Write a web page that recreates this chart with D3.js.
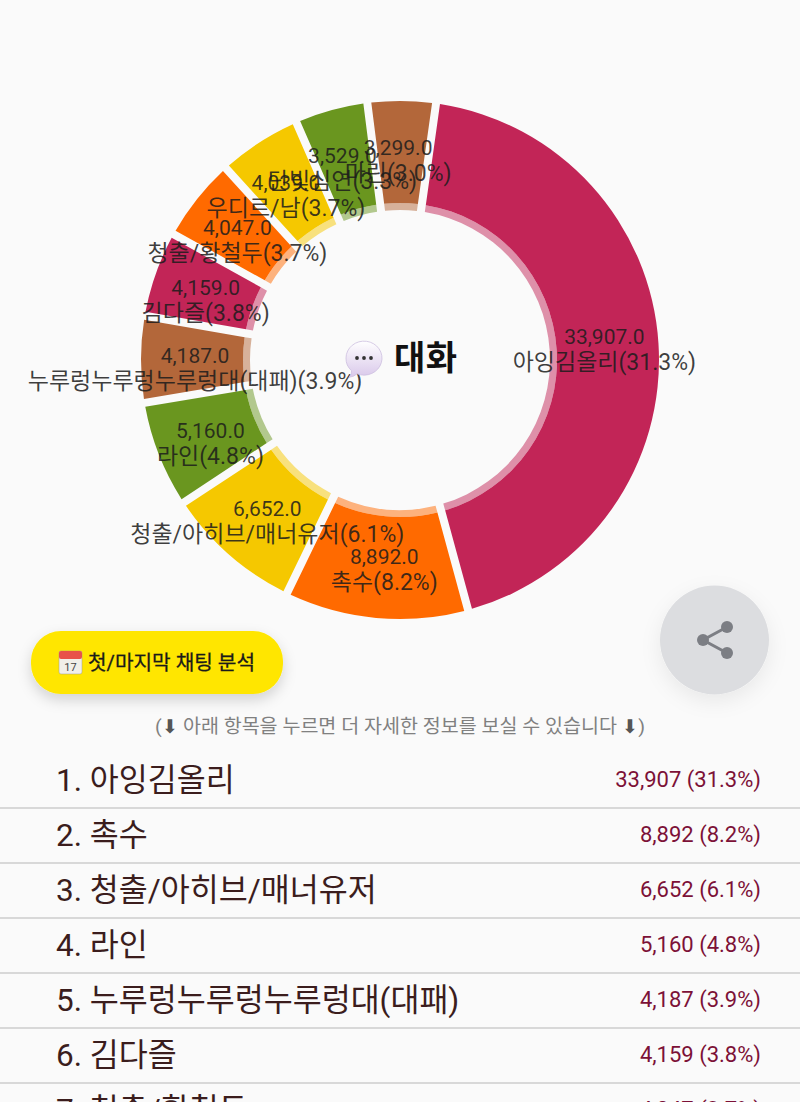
<!DOCTYPE html>
<html><head><meta charset="utf-8">
<script src="https://cdnjs.cloudflare.com/ajax/libs/d3/7.8.5/d3.min.js"></script>
<style>
html,body{margin:0;padding:0;background:#fafafa;overflow:hidden}
svg{display:block}
text{font-family:Roboto,"Noto Sans CJK KR","Noto Sans",sans-serif}
</style></head><body>
<svg id="c" width="800" height="1102"></svg>
<script>
const names=["아잉김올리","촉수","청출/아히브/매너유저","라인","누루렁누루렁누루렁대(대패)","김다즐","청출/황철두","우디르/남","단빛심연","마린"];
const values=[33907,8892,6652,5160,4187,4159,4047,4039,3529,3299];
const percents=[31.3,8.2,6.1,4.8,3.9,3.8,3.7,3.7,3.3,3.0];
const palette=["#c22557","#ff6a00","#f5c800","#6a961f","#b3673a"];
const listCount=7;

const svg=d3.select("#c");
const defs=svg.append("defs");
const f=defs.append("filter").attr("id","sh").attr("x","-30%").attr("y","-30%").attr("width","160%").attr("height","180%");
f.append("feDropShadow").attr("dx",0).attr("dy",6).attr("stdDeviation",7).attr("flood-color","#000").attr("flood-opacity",.16);
const f2=defs.append("filter").attr("id","sh2").attr("x","-30%").attr("y","-30%").attr("width","160%").attr("height","180%");
f2.append("feDropShadow").attr("dx",0).attr("dy",7).attr("stdDeviation",10).attr("flood-color","#000").attr("flood-opacity",.07);
const g=defs.append("linearGradient").attr("id","bub").attr("x1",0).attr("x2",0).attr("y1",0).attr("y2",1);
g.append("stop").attr("offset","0").attr("stop-color","#ffffff");
g.append("stop").attr("offset","1").attr("stop-color","#d9c8ea");

const cx=400,cy=360,R=259,Rin=157,Rhole=150,Rlabel=205;
const rot=8*Math.PI/180;
const labelShift=-0.9*Math.PI/180;
const pie=d3.pie().sort(null).startAngle(rot).endAngle(rot+2*Math.PI).padAngle(0);
const arcs=pie(values);
const gap=8;
const clr=i=>palette[i%palette.length];
const chart=svg.append("g").attr("transform",`translate(${cx},${cy})`);
const pad=d=>({...d,padAngle:gap/Rin});
const solid=d3.arc().innerRadius(Rin).outerRadius(R).padRadius(Rin);
const hi=d3.arc().innerRadius(Rhole).outerRadius(Rin).padRadius(Rin);
chart.selectAll("path.h").data(arcs).join("path").attr("class","h")
 .attr("d",d=>hi(pad(d))).attr("fill",(d,i)=>clr(i)).attr("fill-opacity",.5);
chart.selectAll("path.s").data(arcs).join("path").attr("class","s")
 .attr("d",d=>solid(pad(d))).attr("fill",(d,i)=>clr(i));
const lab=d3.arc().innerRadius(Rlabel).outerRadius(Rlabel);
const fmt=d3.format(",");
const labs=chart.selectAll("g.l").data(arcs).join("g").attr("class","l")
 .attr("transform",d=>{const p=lab.centroid({...d,startAngle:d.startAngle+labelShift,endAngle:d.endAngle+labelShift});return `translate(${p[0]},${p[1]})`});
labs.append("text").attr("text-anchor","middle").attr("y",0).attr("font-size",21).attr("fill","#1c1c1c").attr("fill-opacity",.86)
 .text((d,i)=>fmt(values[i])+".0");
labs.append("text").attr("text-anchor","middle").attr("y",26).attr("font-size",23).attr("fill","#1c1c1c").attr("fill-opacity",.86)
 .text((d,i)=>`${names[i]}(${percents[i].toFixed(1)}%)`);

// center
const b=svg.append("g");
b.append("path").attr("d","M346 358a18 17 0 1 1 11 15.8q-3 3-8 3.5q3-3 2.6-6.5a18 17 0 0 1-5.6-12.8z").attr("fill","url(#bub)").attr("stroke","#cdbfe0").attr("stroke-width",.8);
[357,364,371].forEach(x=>b.append("circle").attr("cx",x).attr("cy",358).attr("r",1.9).attr("fill","#333"));
svg.append("text").attr("x",394).attr("y",370).attr("font-size",34).attr("font-weight",700).attr("fill","#111").attr("textLength",63).text("대화");

// button
svg.append("rect").attr("x",31).attr("y",631).attr("width",252).attr("height",63).attr("rx",30).attr("fill","#ffe600").attr("filter","url(#sh)");
const cal=svg.append("g");
cal.append("rect").attr("x",59).attr("y",651).attr("width",23).attr("height",23).attr("rx",2).attr("fill","#f1efe9").attr("stroke","#999").attr("stroke-width",.5);
cal.append("rect").attr("x",59).attr("y",651).attr("width",23).attr("height",8).attr("rx",2).attr("fill","#e8524a");
svg.append("text").attr("x",70.5).attr("y",671).attr("text-anchor","middle").attr("font-size",11).attr("fill","#444").text("17");
svg.append("text").attr("x",88).attr("y",670).attr("font-size",20).attr("font-weight",400).attr("fill","#1a1a1a").attr("stroke","#1a1a1a").attr("stroke-width",.3).attr("textLength",167).attr("lengthAdjust","spacingAndGlyphs").text("첫/마지막 채팅 분석");

// share
svg.append("circle").attr("cx",714.5).attr("cy",640).attr("r",54.5).attr("fill","#dcdde0").attr("filter","url(#sh2)");
const sh=svg.append("g").attr("fill","#7c7e84").attr("stroke","#7c7e84");
[[727,627],[703,640],[727,653]].forEach(p=>sh.append("circle").attr("cx",p[0]).attr("cy",p[1]).attr("r",6).attr("stroke","none"));
sh.append("path").attr("d","M727 627L703 640L727 653").attr("fill","none").attr("stroke-width",3);

// hint
svg.append("text").attr("x",155).attr("y",733).attr("font-size",19).attr("fill","#808080").attr("textLength",490).attr("lengthAdjust","spacingAndGlyphs")
 .html('(<tspan font-family="DejaVu Sans" fill="#555">⬇</tspan> 아래 항목을 누르면 더 자세한 정보를 보실 수 있습니다 <tspan font-family="DejaVu Sans" fill="#555">⬇</tspan>)');

// list
const rowY=d3.scaleLinear().domain([0,1]).range([780,835]);
const rows=svg.append("g").selectAll("g").data(d3.range(listCount)).join("g").attr("transform",i=>`translate(0,${rowY(i)})`);
rows.append("text").attr("x",56).attr("y",11).attr("font-size",31.5).attr("fill","#3b1d1d").text(i=>`${i+1}. ${names[i]}`);
rows.append("text").attr("x",761).attr("y",7).attr("text-anchor","end").attr("font-size",22).attr("fill","#7c1137").text(i=>`${fmt(values[i])} (${percents[i].toFixed(1)}%)`);
rows.append("line").attr("x1",0).attr("x2",800).attr("y1",28).attr("y2",28).attr("stroke","#d8d8d8").attr("stroke-width",2);
</script>
</body></html>
